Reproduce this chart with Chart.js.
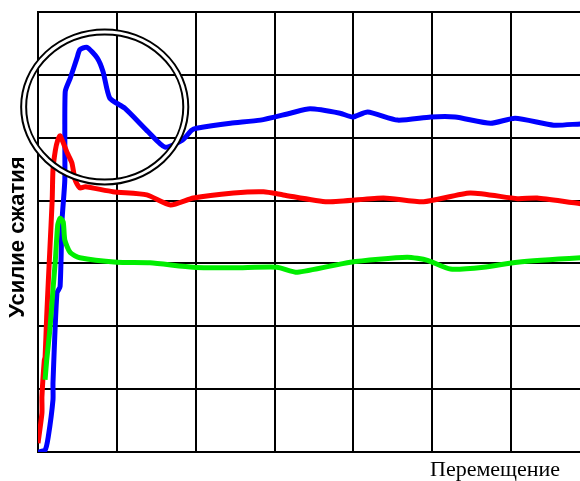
<!DOCTYPE html>
<html>
<head>
<meta charset="utf-8">
<script src="https://cdn.jsdelivr.net/npm/chart.js@4/dist/chart.umd.min.js"></script>
<style>
  html, body { margin: 0; padding: 0; background: #fff; overflow: hidden; }
  #wrap { width: 600px; height: 481px; }
</style>
</head>
<body>
<div id="wrap"><canvas id="myChart" width="600" height="481"></canvas></div>
<script>
// values, axes 0..70 (grid step 10)
let blueX = [0, 0.9, 1.3, 1.9, 1.9, 2.4, 2.8, 3.05, 3.4, 3.45, 4.1, 4.95, 5.3, 6.2, 7.5, 8.25, 9.1, 11.0, 14.0, 16.1, 18.3, 19.5, 20.1, 24.4, 28.2, 32.0, 34.5, 38.3, 39.9, 41.8, 45.6, 49.8, 52.9, 57.4, 60.5, 65.4, 68.8, 70];
let blueY = [0, 0.3, 2.4, 8.3, 11.0, 25.3, 26.3, 36.9, 43.3, 57.3, 59.5, 62.7, 64.0, 64.4, 62.7, 60.5, 56.3, 54.7, 50.9, 48.5, 49.6, 51.2, 51.5, 52.3, 52.8, 53.9, 54.6, 53.9, 53.3, 54.1, 52.8, 53.3, 53.3, 52.3, 53.1, 52.0, 52.2, 52.2];

let redX = [0, 0.5, 0.5, 0.8, 0.9, 1.1, 1.3, 1.5, 1.8, 1.9, 2.2, 2.5, 2.8, 3.7, 4.3, 4.7, 5.3, 6.0, 9.5, 13.8, 16.8, 19.7, 24.8, 28.6, 31.1, 36.7, 43.8, 48.9, 54.8, 60.8, 63.3, 68.8, 70];
let redY = [1.4, 6.2, 8.8, 14.6, 15.1, 21.5, 26.9, 32.1, 40.1, 44.9, 48.0, 49.6, 50.3, 47.6, 46.0, 43.3, 42.0, 42.2, 41.4, 40.9, 39.3, 40.4, 41.2, 41.4, 40.9, 39.8, 40.4, 39.8, 41.2, 40.3, 40.4, 39.5, 39.5];

let greenX = [0.9, 1.1, 1.5, 1.9, 2.2, 2.5, 2.8, 3.2, 3.4, 4.1, 5.3, 10.0, 14.2, 19.7, 24.8, 30.3, 32.9, 39.6, 46.8, 49.4, 52.3, 56.5, 60.8, 68.8, 70];
let greenY = [11.5, 14.6, 19.4, 25.8, 30.5, 36.1, 37.2, 36.6, 33.7, 31.7, 30.9, 30.2, 30.1, 29.4, 29.3, 29.4, 28.6, 30.2, 31.0, 30.5, 29.1, 29.4, 30.2, 30.9, 30.9];

let yTitle = "Усилие сжатия";
let xTitle = "Перемещение";

function pts(xs, ys) {
  return xs.map((x, i) => ({ x: x, y: ys[i] }));
}

// double ring drawn over the peak, in axis units
const ring = { x: 8.46, y: 54.9, rx: 10.28, ry: 11.93 };

const extras = {
  id: "extras",
  afterDatasetsDraw(chart) {
    const ctx = chart.ctx;
    const sx = chart.scales.x, sy = chart.scales.y;
    const cx = sx.getPixelForValue(ring.x);
    const cy = sy.getPixelForValue(ring.y);
    const rx = sx.getPixelForValue(ring.rx) - sx.getPixelForValue(0);
    const ry = sy.getPixelForValue(0) - sy.getPixelForValue(ring.ry);
    ctx.save();
    ctx.beginPath();
    ctx.ellipse(cx, cy, rx, ry, 0, 0, Math.PI * 2);
    ctx.strokeStyle = "#fff";
    ctx.lineWidth = 5;
    ctx.stroke();
    ctx.strokeStyle = "#000";
    ctx.lineWidth = 2;
    ctx.beginPath();
    ctx.ellipse(cx, cy, rx + 2.5, ry + 2.5, 0, 0, Math.PI * 2);
    ctx.stroke();
    ctx.beginPath();
    ctx.ellipse(cx, cy, rx - 2.5, ry - 2.5, 0, 0, Math.PI * 2);
    ctx.stroke();
    ctx.restore();
  },
  afterDraw(chart) {
    const ctx = chart.ctx;
    ctx.save();
    ctx.fillStyle = "#000";
    ctx.translate(18, 237);
    ctx.rotate(-Math.PI / 2);
    ctx.font = "bold 22px 'Liberation Sans', Arial, sans-serif";
    ctx.textAlign = "center";
    ctx.textBaseline = "middle";
    ctx.fillText(yTitle, 0, 0);
    ctx.restore();
    ctx.save();
    ctx.fillStyle = "#000";
    ctx.font = "22px 'Liberation Serif', 'Times New Roman', serif";
    ctx.textAlign = "left";
    ctx.textBaseline = "middle";
    ctx.fillText(xTitle, 430, 470);
    ctx.restore();
  }
};

const axis = {
  type: "linear",
  min: 0,
  max: 70,
  ticks: { display: false, stepSize: 10 },
  grid: { color: "#000", lineWidth: 2, drawTicks: false },
  border: { color: "#000", width: 2 }
};

new Chart("myChart", {
  type: "scatter",
  data: {
    datasets: [
      { data: pts(greenX, greenY), borderColor: "#00ee00", borderWidth: 5, showLine: true, pointRadius: 0, tension: 0.2 },
      { data: pts(redX, redY), borderColor: "#ff0000", borderWidth: 5, showLine: true, pointRadius: 0, tension: 0.2 },
      { data: pts(blueX, blueY), borderColor: "#0000ff", borderWidth: 5, showLine: true, pointRadius: 0, tension: 0.2 }
    ]
  },
  options: {
    responsive: false,
    animation: false,
    events: [],
    layout: { padding: { left: 38, top: 12, right: 10, bottom: 29 } },
    plugins: { legend: { display: false }, tooltip: { enabled: false } },
    scales: { x: axis, y: axis }
  },
  plugins: [extras]
});
</script>
</body>
</html>
